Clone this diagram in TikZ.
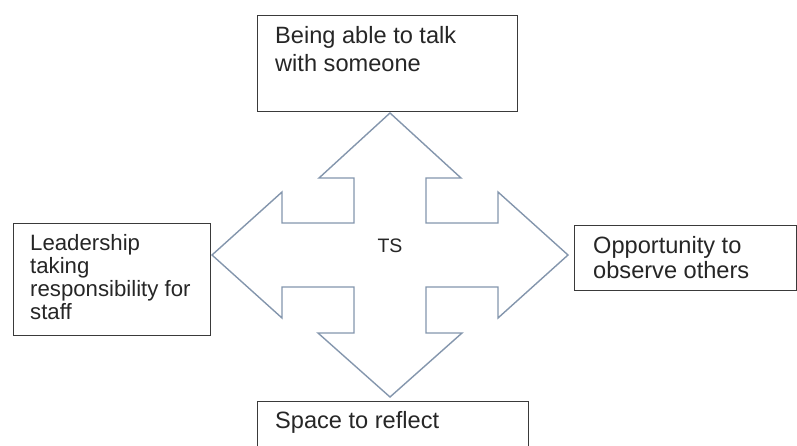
\documentclass[tikz,border=0pt]{standalone}
\usepackage{fontspec}
\setmainfont{Liberation Sans}
\usetikzlibrary{calc}
\definecolor{boxline}{HTML}{3A3A3A}
\definecolor{arrline}{HTML}{8496AD}
\definecolor{txt}{HTML}{262626}
\begin{document}
\begin{tikzpicture}[x=1pt,y=-1pt,
  box/.style={draw=boxline,line width=1.3pt,fill=white,inner sep=0pt,anchor=north west},
  lbl/.style={text=txt,inner sep=0pt,anchor=north west,align=left},
  bigarrow/.style={draw=arrline,line width=1.4pt,fill=white,line join=miter}]
\useasboundingbox (0,0) rectangle (797,445);
% four-way arrow
\draw[bigarrow] (390,113) -- (461,178) -- (426,178) -- (426,223) -- (498,223) -- (498,192)
  -- (568,255) -- (498,318) -- (498,287) -- (426,287) -- (426,333) -- (462,333)
  -- (390,397) -- (318,333) -- (354,333) -- (354,287) -- (282,287) -- (282,318)
  -- (212,255) -- (282,192) -- (282,223) -- (354,223) -- (354,178) -- (319,178) -- cycle;
% boxes
\node[box,minimum width=260pt,minimum height=96pt] (top) at (257,15) {};
\node[box,minimum width=197pt,minimum height=112pt] (left) at (13,223) {};
\node[box,minimum width=222pt,minimum height=65pt] (right) at (574,225) {};
\node[box,minimum width=271pt,minimum height=60pt] (bottom) at (257,401) {};
% texts
\node[lbl,font=\fontsize{23.6}{28}\selectfont] (ttop) at (275,26) {Being able to talk\\with someone};
\node[lbl,font=\fontsize{22.2}{23}\selectfont] (tleft) at (30,234.5) {Leadership\\taking\\responsibility for\\staff};
\node[lbl,font=\fontsize{23.6}{25}\selectfont] (tright) at (593,236) {Opportunity to\\observe others};
\node[lbl,font=\fontsize{23.6}{28}\selectfont] (tbottom) at (275,411) {Space to reflect};
\node[text=txt,inner sep=0pt,font=\fontsize{19.5}{22}\selectfont] (centre) at (390,246) {TS};
\end{tikzpicture}
\end{document}
